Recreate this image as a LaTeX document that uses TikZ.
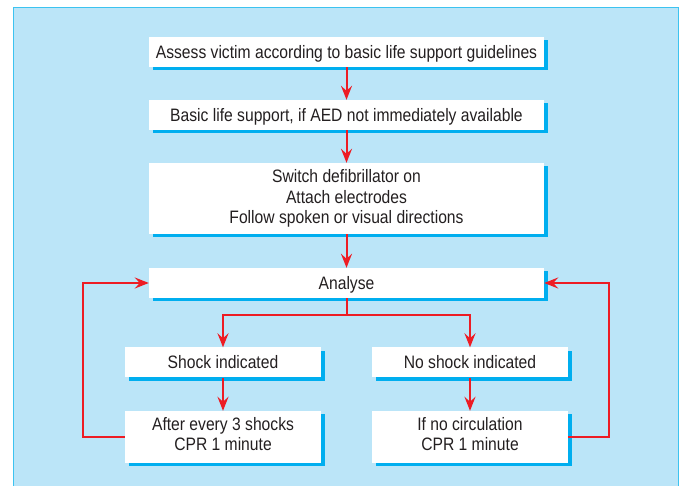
\documentclass[tikz,border=0pt]{standalone}
\usepackage{fontspec}
\setmainfont{Liberation Sans}[FakeStretch=0.87]
\usetikzlibrary{arrows.meta,shadows}
\definecolor{bgblue}{HTML}{BBE5F8}
\definecolor{bordercyan}{HTML}{3CC3F0}
\definecolor{shadowcyan}{HTML}{00AEEF}
\definecolor{arrred}{HTML}{ED1C24}
\definecolor{txt}{HTML}{231F20}
\tikzset{
  box/.style={rectangle, fill=white, draw=none, inner sep=0pt, text=txt, align=center,
    font=\fontsize{18}{20.3}\selectfont,
    drop shadow={shadow xshift=3.5pt, shadow yshift=-3.5pt, fill=shadowcyan, opacity=1}},
  oneline/.style={text height=12.9pt, text depth=0pt},
  conn/.style={draw=arrred, line width=2pt},
  arr/.style={conn, -{Stealth[length=14pt,width=11pt,inset=5pt]}}
}
\begin{document}
\begin{tikzpicture}[x=1pt,y=-1pt]
\useasboundingbox (0,0) rectangle (681,486);
\fill[white] (0,0) rectangle (681,486);
\draw[fill=bgblue, draw=bordercyan, line width=1pt] (13.5,7.5) rectangle (678,492);

\node[box, oneline, minimum width=395pt, minimum height=30pt] (b1) at (346.5,52)
  {Assess victim according to basic life support guidelines};
\node[box, oneline, minimum width=395pt, minimum height=30pt] (b2) at (346.5,115)
  {Basic life support, if AED not immediately available};
\node[box, minimum width=395pt, minimum height=71pt] (b3) at (346.5,198.5)
  {Switch defibrillator on\\Attach electrodes\\Follow spoken or visual directions};
\node[box, oneline, minimum width=395pt, minimum height=30pt] (b4) at (346.5,283)
  {Analyse};
\node[box, oneline, minimum width=196pt, minimum height=30pt] (b5) at (223,362.5)
  {Shock indicated};
\node[box, oneline, minimum width=196pt, minimum height=30pt] (b6) at (470,362.5)
  {No shock indicated};
\node[box, text depth=6pt, minimum width=196pt, minimum height=52pt] (b7) at (223,437)
  {After every 3 shocks\\CPR 1 minute};
\node[box, text depth=6pt, minimum width=196pt, minimum height=52pt] (b8) at (470,437)
  {If no circulation\\CPR 1 minute};

\coordinate (br) at (346.5,315);
\coordinate (lx) at (83,437);
\coordinate (rx) at (609,437);

\draw[arr] (b1.south) -- (b2.north);
\draw[arr] (b2.south) -- (b3.north);
\draw[arr] (b3.south) -- (b4.north);
\draw[arr] (b4.south) -- (br) -| (b5.north);
\draw[arr] (br) -| (b6.north);
\draw[arr] (b5.south) -- (b7.north);
\draw[arr] (b6.south) -- (b8.north);
\draw[arr] (b7.west) -- (lx) |- (b4.west);
\draw[arr] (b8.east) -- (rx) |- (b4.east);
\end{tikzpicture}
\end{document}
